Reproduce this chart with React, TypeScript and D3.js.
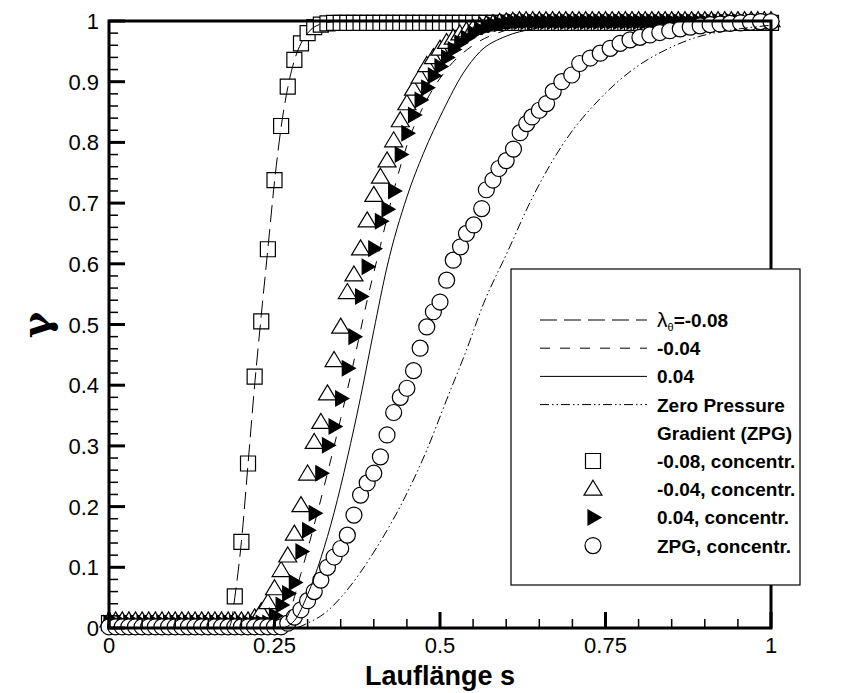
import React, { useEffect, useRef } from "react";
import * as d3 from "d3";

const W = 854;
const H = 693;

// axis ticks
const xTicks = [0, 0.25, 0.5, 0.75, 1];
const xTickLabels = ["0", "0.25", "0.5", "0.75", "1"];
const yTicks = [0, 0.1, 0.2, 0.3, 0.4, 0.5, 0.6, 0.7, 0.8, 0.9, 1];
const yTickLabels = ["0", "0.1", "0.2", "0.3", "0.4", "0.5", "0.6", "0.7", "0.8", "0.9", "1"];

// marker positions along s (every 0.01)
const sGrid = d3.range(101).map(i => i / 100);

// -0.08, concentr. (squares)
const squareGamma = [
  0.008, 0.008, 0.008, 0.008, 0.008, 0.008, 0.008, 0.008, 0.008, 0.008,
  0.008, 0.008, 0.008, 0.008, 0.008, 0.008, 0.008, 0.008, 0.008, 0.052,
  0.142, 0.271, 0.414, 0.505, 0.624, 0.738, 0.827, 0.892, 0.936, 0.963,
  0.98, 0.99, 0.994, 0.996, 0.997, 0.997, 0.997, 0.997, 0.997, 0.997,
  0.997, 0.997, 0.997, 0.997, 0.997, 0.997, 0.997, 0.997, 0.997, 0.997,
  0.997, 0.997, 0.997, 0.997, 0.997, 0.997, 0.997, 0.997, 0.997, 0.997,
  0.997, 0.997, 0.997, 0.997, 0.997, 0.997, 0.997, 0.997, 0.997, 0.997,
  0.997, 0.997, 0.997, 0.997, 0.997, 0.997, 0.997, 0.997, 0.997, 0.997,
  0.997, 0.997, 0.997, 0.997, 0.997, 0.997, 0.997, 0.997, 0.997, 0.997,
  0.997, 0.997, 0.997, 0.997, 0.997, 0.997, 0.997, 0.997, 0.997, 0.997,
  0.997
];

// -0.04, concentr. (open triangles)
const triUpGamma = [
  0.01, 0.01, 0.01, 0.01, 0.01, 0.01, 0.01, 0.01, 0.01, 0.01,
  0.01, 0.01, 0.01, 0.01, 0.01, 0.01, 0.01, 0.01, 0.01, 0.01,
  0.01, 0.01, 0.015, 0.025, 0.04, 0.063, 0.093, 0.117, 0.153, 0.2,
  0.252, 0.304, 0.337, 0.384, 0.439, 0.494, 0.551, 0.58, 0.623, 0.669,
  0.711, 0.741, 0.768, 0.801, 0.834, 0.862, 0.886, 0.906, 0.925, 0.938,
  0.952, 0.963, 0.97, 0.977, 0.982, 0.986, 0.99, 0.992, 0.994, 0.996,
  0.997, 0.998, 0.999, 0.999, 0.999, 0.999, 0.999, 0.999, 0.999, 0.999,
  0.999, 0.999, 0.999, 0.999, 0.999, 0.999, 0.999, 0.999, 0.999, 0.999,
  0.999, 0.999, 0.999, 0.999, 0.999, 0.999, 0.999, 0.999, 0.999, 0.999,
  0.999, 0.999, 0.999, 0.999, 0.999, 0.999, 0.999, 0.999, 0.999, 0.999,
  0.999
];

// 0.04, concentr. (filled right triangles)
const triRightGamma = [
  0.008, 0.008, 0.008, 0.008, 0.008, 0.008, 0.008, 0.008, 0.008, 0.008,
  0.008, 0.008, 0.008, 0.008, 0.008, 0.008, 0.008, 0.008, 0.008, 0.008,
  0.008, 0.008, 0.008, 0.008, 0.008, 0.02, 0.038, 0.057, 0.075, 0.126,
  0.161, 0.189, 0.255, 0.301, 0.332, 0.378, 0.428, 0.48, 0.546, 0.595,
  0.625, 0.67, 0.69, 0.72, 0.78, 0.815, 0.845, 0.87, 0.89, 0.91,
  0.925, 0.94, 0.953, 0.964, 0.972, 0.98, 0.986, 0.99, 0.994, 0.996,
  0.998, 0.999, 0.999, 0.999, 0.999, 0.999, 0.999, 0.999, 0.999, 0.999,
  0.999, 0.999, 0.999, 0.999, 0.999, 0.999, 0.999, 0.999, 0.999, 0.999,
  0.999, 0.999, 0.999, 0.999, 0.999, 0.999, 0.999, 0.999, 0.999, 0.999,
  0.999, 0.999, 0.999, 0.999, 0.999, 0.999, 0.999, 0.999, 0.999, 0.999,
  0.999
];

// ZPG, concentr. (circles)
const circleS = [
  0, 0.01, 0.02, 0.03, 0.04, 0.05, 0.06, 0.07, 0.08, 0.09,
  0.1, 0.11, 0.12, 0.13, 0.14, 0.15, 0.16, 0.17, 0.18, 0.19,
  0.2, 0.21, 0.22, 0.23, 0.24, 0.25, 0.26, 0.27, 0.28, 0.29,
  0.3, 0.31, 0.32, 0.33, 0.34, 0.35, 0.36, 0.37, 0.38, 0.39,
  0.4, 0.41, 0.42, 0.43, 0.44, 0.45, 0.46, 0.47, 0.48, 0.49,
  0.5, 0.51, 0.52, 0.531, 0.54, 0.551, 0.563, 0.57, 0.58, 0.589,
  0.6, 0.611, 0.621, 0.631, 0.639, 0.65, 0.661, 0.671, 0.684, 0.699,
  0.711, 0.727, 0.742, 0.757, 0.772, 0.787, 0.802, 0.817, 0.832, 0.847,
  0.863, 0.878, 0.893, 0.908, 0.923, 0.938, 0.954, 0.969, 0.984, 1.0
];
const circleGamma = [
  0.002, 0.002, 0.002, 0.002, 0.002, 0.002, 0.002, 0.002, 0.002, 0.002,
  0.002, 0.002, 0.002, 0.002, 0.002, 0.002, 0.002, 0.002, 0.002, 0.002,
  0.002, 0.002, 0.002, 0.002, 0.002, 0.002, 0.002, 0.008, 0.018, 0.03,
  0.045, 0.06, 0.079, 0.1, 0.117, 0.131, 0.153, 0.186, 0.219, 0.239,
  0.255, 0.282, 0.318, 0.355, 0.38, 0.395, 0.424, 0.461, 0.496, 0.521,
  0.537, 0.573, 0.606, 0.628, 0.65, 0.664, 0.691, 0.722, 0.738, 0.757,
  0.77, 0.789, 0.816, 0.831, 0.842, 0.853, 0.864, 0.884, 0.9, 0.911,
  0.93, 0.939, 0.947, 0.955, 0.963, 0.969, 0.973, 0.977, 0.981, 0.984,
  0.987, 0.99, 0.992, 0.994, 0.995, 0.996, 0.997, 0.998, 0.999, 0.999
];

// model curves
const lineM008S = [0, 0.18, 0.185, 0.19, 0.2, 0.21, 0.22, 0.23, 0.24, 0.25, 0.26, 0.27, 0.28, 0.29, 0.3, 0.31, 0.32, 0.34, 0.36, 1];
const lineM008G = [0, 0, 0.012, 0.05, 0.142, 0.27, 0.4, 0.515, 0.625, 0.735, 0.825, 0.89, 0.935, 0.963, 0.98, 0.99, 0.995, 0.999, 1, 1];

const lineM004S = [0, 0.25, 0.27, 0.29, 0.31, 0.33, 0.35, 0.37, 0.39, 0.41, 0.43, 0.45, 0.48, 0.51, 0.55, 0.6, 0.65, 1];
const lineM004G = [0, 0, 0.02, 0.09, 0.17, 0.255, 0.345, 0.44, 0.54, 0.63, 0.72, 0.795, 0.87, 0.92, 0.96, 0.985, 0.996, 1];

const lineP004S = [0, 0.26, 0.28, 0.3, 0.32, 0.34, 0.36, 0.38, 0.4, 0.42, 0.45, 0.475, 0.505, 0.535, 0.56, 0.6, 0.64, 0.7, 0.8, 1];
const lineP004G = [0, 0, 0.012, 0.055, 0.115, 0.19, 0.28, 0.38, 0.49, 0.595, 0.71, 0.782, 0.853, 0.914, 0.949, 0.975, 0.987, 0.996, 1, 1];

const lineZpgS = [0, 0.28, 0.3, 0.33, 0.35, 0.38, 0.4, 0.445, 0.48, 0.51, 0.54, 0.566, 0.6, 0.64, 0.69, 0.74, 0.79, 0.84, 0.89, 0.94, 1];
const lineZpgG = [0, 0, 0.008, 0.028, 0.05, 0.092, 0.125, 0.211, 0.293, 0.376, 0.458, 0.535, 0.615, 0.71, 0.804, 0.87, 0.919, 0.952, 0.974, 0.985, 0.993];

const legendLineLabels = ["=-0.08", "-0.04", "0.04", "Zero Pressure"];
const legendMarkerLabels = ["-0.08, concentr.", "-0.04, concentr.", "0.04, concentr.", "ZPG, concentr."];

const LONG_DASH = "17,7";
const MED_DASH = "10,10";
const DASH_DOT = "9,3,1.5,3,1.5,3";

const App = () => {
  const svgRef = useRef<SVGSVGElement>(null);

  useEffect(() => {
    const svg = d3.select(svgRef.current);
    svg.selectAll("*").remove();

    const left = 109, right = 771, top = 21, bottom = 628;
    const x = d3.scaleLinear().domain([0, 1]).range([left, right]);
    const y = d3.scaleLinear().domain([0, 1]).range([bottom, top]);

    const font = "'Liberation Sans', Arial, sans-serif";

    svg.append("rect").attr("width", W).attr("height", H).attr("fill", "white");

    const sqPath = "M-7.5,-7.5H7.5V7.5H-7.5Z";
    const upPath = "M0,-10L9,5L-9,5Z";
    const rightPath = "M-5,-7.5L8,0L-5,7.5Z";

    // markers
    const gm = svg.append("g").attr("stroke", "black").attr("stroke-width", 1.2);
    gm.selectAll(".sq").data(sGrid).join("path")
      .attr("d", sqPath).attr("fill", "white")
      .attr("transform", (d, i) => `translate(${x(d)},${y(squareGamma[i])})`);
    gm.selectAll(".tu").data(sGrid).join("path")
      .attr("d", upPath).attr("fill", "white")
      .attr("transform", (d, i) => `translate(${x(d)},${y(triUpGamma[i])})`);
    gm.selectAll(".tr").data(sGrid).join("path")
      .attr("d", rightPath).attr("fill", "black")
      .attr("transform", (d, i) => `translate(${x(d)},${y(triRightGamma[i])})`);
    gm.selectAll(".ci").data(circleS).join("circle")
      .attr("r", 8).attr("fill", "white")
      .attr("cx", d => x(d)).attr("cy", (d, i) => y(circleGamma[i]));

    // lines
    const line = d3.line<number>()
      .curve(d3.curveMonotoneX);
    const curves = [
      { s: lineM008S, g: lineM008G, dash: LONG_DASH },
      { s: lineM004S, g: lineM004G, dash: MED_DASH },
      { s: lineP004S, g: lineP004G, dash: null },
      { s: lineZpgS, g: lineZpgG, dash: DASH_DOT },
    ];
    curves.forEach(c => {
      svg.append("path")
        .attr("fill", "none")
        .attr("stroke", "black")
        .attr("stroke-width", 1)
        .attr("stroke-dasharray", c.dash)
        .attr("d", line.x((d, i) => x(c.s[i])).y(d => y(d))(c.g));
    });

    // frame
    svg.append("rect")
      .attr("x", left).attr("y", top)
      .attr("width", right - left).attr("height", bottom - top)
      .attr("fill", "none").attr("stroke", "black").attr("stroke-width", 3);

    const xMinor = d3.range(0, 1.0001, 0.05).filter(v => !xTicks.some(t => Math.abs(t - v) < 1e-6));
    const yMinor = d3.range(0, 1.0001, 0.02).filter(v => !yTicks.some(t => Math.abs(t - v) < 1e-6));

    const gt = svg.append("g").attr("stroke", "black");
    gt.selectAll(".xmaj").data(xTicks).join("line")
      .attr("x1", d => x(d)).attr("x2", d => x(d))
      .attr("y1", bottom).attr("y2", bottom - 16).attr("stroke-width", 3);
    gt.selectAll(".xmin").data(xMinor).join("line")
      .attr("x1", d => x(d)).attr("x2", d => x(d))
      .attr("y1", bottom).attr("y2", bottom - 9).attr("stroke-width", 1.5);
    gt.selectAll(".ymaj").data(yTicks).join("line")
      .attr("y1", d => y(d)).attr("y2", d => y(d))
      .attr("x1", left).attr("x2", left + 16).attr("stroke-width", 3);
    gt.selectAll(".ymin").data(yMinor).join("line")
      .attr("y1", d => y(d)).attr("y2", d => y(d))
      .attr("x1", left).attr("x2", left + 9).attr("stroke-width", 1.5);

    // tick labels
    svg.append("g")
      .attr("font-family", font).attr("font-size", 22).attr("text-anchor", "middle")
      .selectAll("text").data(xTicks).join("text")
      .attr("x", d => x(d)).attr("y", 653)
      .text((d, i) => xTickLabels[i]);
    svg.append("g")
      .attr("font-family", font).attr("font-size", 22).attr("text-anchor", "end")
      .selectAll("text").data(yTicks).join("text")
      .attr("x", 99).attr("y", d => y(d) + 8)
      .text((d, i) => yTickLabels[i]);

    // axis titles
    svg.append("text")
      .attr("x", 440).attr("y", 685)
      .attr("text-anchor", "middle")
      .attr("font-family", font).attr("font-weight", "bold").attr("font-size", 27)
      .text("Lauflänge s");
    svg.append("text")
      .attr("transform", "translate(50,325) rotate(-90)")
      .attr("text-anchor", "middle")
      .attr("font-family", "'DejaVu Serif', 'Liberation Serif', serif")
      .attr("font-weight", "bold").attr("font-size", 40)
      .text("γ");

    // legend
    const lg = svg.append("g");
    lg.append("rect")
      .attr("x", 511).attr("y", 269).attr("width", 289).attr("height", 316)
      .attr("fill", "white").attr("stroke", "black").attr("stroke-width", 1.2);

    const rowY = d3.range(9).map(i => 320 + i * 28.2);
    const lx1 = 540, lx2 = 647, tx = 657, mx = 593;
    const dashes = [LONG_DASH, MED_DASH, null, DASH_DOT];
    dashes.forEach((d, i) => {
      lg.append("line")
        .attr("x1", lx1).attr("x2", lx2).attr("y1", rowY[i]).attr("y2", rowY[i])
        .attr("stroke", "black").attr("stroke-width", 1)
        .attr("stroke-dasharray", d);
    });

    const txt = (i: number) => lg.append("text")
      .attr("x", tx).attr("y", rowY[i] + 7)
      .attr("font-family", font).attr("font-weight", "bold").attr("font-size", 19);

    const t0 = txt(0);
    t0.append("tspan").attr("font-weight", "normal").attr("font-size", 21).text("λ");
    t0.append("tspan").attr("font-weight", "normal").attr("font-size", 11).attr("dy", 4).text("θ");
    t0.append("tspan").attr("dy", -4).text(legendLineLabels[0]);
    txt(1).text(legendLineLabels[1]);
    txt(2).text(legendLineLabels[2]);
    txt(3).text(legendLineLabels[3]);
    txt(4).text("Gradient (ZPG)");

    const mk = lg.append("g").attr("stroke", "black").attr("stroke-width", 1.2);
    mk.append("path").attr("d", sqPath).attr("fill", "white").attr("transform", `translate(${mx},${rowY[5]})`);
    mk.append("path").attr("d", upPath).attr("fill", "white").attr("transform", `translate(${mx},${rowY[6] + 1})`);
    mk.append("path").attr("d", rightPath).attr("fill", "black").attr("transform", `translate(${mx},${rowY[7]})`);
    mk.append("circle").attr("r", 8).attr("fill", "white").attr("cx", mx).attr("cy", rowY[8]);
    legendMarkerLabels.forEach((l, i) => txt(5 + i).text(l));
  }, []);

  return (
    <div style={{ position: "absolute", left: 0, top: 0 }}>
      <svg ref={svgRef} width={W} height={H} style={{ display: "block" }} />
    </div>
  );
};

export default App;
